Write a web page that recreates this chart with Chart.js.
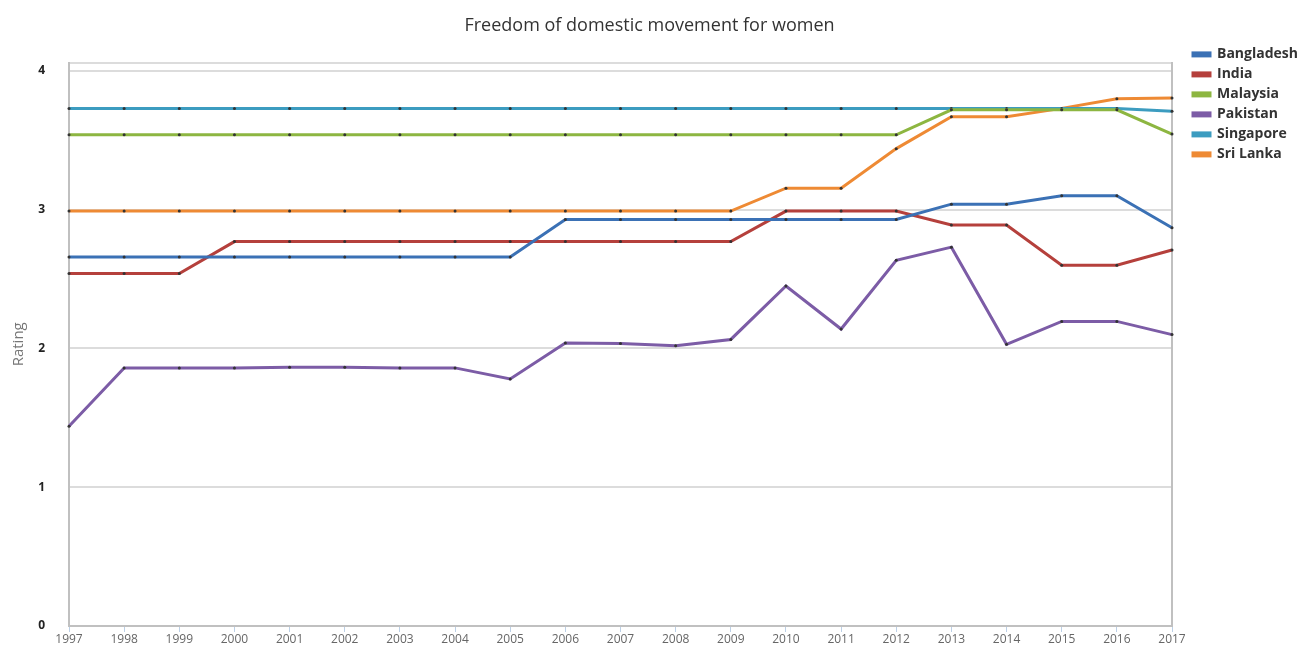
<!DOCTYPE html>
<html>
<head>
<meta charset="utf-8">
<title>Freedom of domestic movement for women</title>
<script src="https://cdn.jsdelivr.net/npm/chart.js@4"></script>
<style>
  html, body { margin: 0; padding: 0; background: #fff; overflow: hidden; }
  #wrap { width: 1299px; height: 648px; }
</style>
</head>
<body>
<div id="wrap"><canvas id="myChart"></canvas></div>
<script>
var years = ['1997','1998','1999','2000','2001','2002','2003','2004','2005','2006','2007',
             '2008','2009','2010','2011','2012','2013','2014','2015','2016','2017'];

var bangladesh = [2.66,2.66,2.66,2.66,2.66,2.66,2.66,2.66,2.66,2.93,2.93,2.93,2.93,2.93,2.93,2.93,3.04,3.04,3.10,3.10,2.87];
var india      = [2.54,2.54,2.54,2.77,2.77,2.77,2.77,2.77,2.77,2.77,2.77,2.77,2.77,2.99,2.99,2.99,2.89,2.89,2.60,2.60,2.71];
var malaysia   = [3.54,3.54,3.54,3.54,3.54,3.54,3.54,3.54,3.54,3.54,3.54,3.54,3.54,3.54,3.54,3.54,3.72,3.72,3.72,3.72,3.545];
var pakistan   = [1.44,1.86,1.86,1.86,1.865,1.865,1.86,1.86,1.78,2.04,2.035,2.02,2.065,2.45,2.14,2.635,2.73,2.03,2.195,2.195,2.10];
var singapore  = [3.73,3.73,3.73,3.73,3.73,3.73,3.73,3.73,3.73,3.73,3.73,3.73,3.73,3.73,3.73,3.73,3.73,3.73,3.73,3.73,3.71];
var sriLanka   = [2.99,2.99,2.99,2.99,2.99,2.99,2.99,2.99,2.99,2.99,2.99,2.99,2.99,3.155,3.155,3.44,3.67,3.67,3.73,3.80,3.805];

var yTicks = [0, 1, 2, 3, 4];

function line(label, data, color) {
    return {
        label: label,
        data: data,
        borderColor: color,
        backgroundColor: color,
        borderWidth: 3,
        tension: 0,
        pointRadius: 1.5,
        pointBackgroundColor: '#333',
        pointBorderWidth: 0,
        yAxisID: 'y'
    };
}

var ctx = document.getElementById('myChart');

var graphData = {
    type: 'line',
    data: {
        labels: years,
        datasets: [
            line('Bangladesh', bangladesh, '#3b71b5'),
            line('India', india, '#b5403c'),
            line('Malaysia', malaysia, '#8db641'),
            line('Pakistan', pakistan, '#7c5ca6'),
            line('Singapore', singapore, '#3c9cc0'),
            line('Sri Lanka', sriLanka, '#ee8a34')
        ]
    },
    options: {
        responsive: true,
        maintainAspectRatio: false,
        animation: false,
        layout: { padding: 0 },
        plugins: {
            title: {
                display: true,
                text: 'Freedom of domestic movement for women',
                color: '#333',
                font: { family: 'Open Sans', size: 18, weight: 'normal' },
                padding: { top: 15, bottom: 26 }
            },
            legend: {
                position: 'right',
                align: 'start',
                maxWidth: 112,
                title: {
                    display: true,
                    text: '',
                    padding: { top: 27, bottom: 0 }
                },
                labels: {
                    boxWidth: 17,
                    boxHeight: 3,
                    padding: 6,
                    color: '#333',
                    font: { family: 'Open Sans', size: 14, weight: 'bold' }
                }
            },
            tooltip: { enabled: false }
        },
        scales: {
            x: {
                offset: false,
                afterFit: function (axis) { axis.height = 22; },
                grid: {
                    drawOnChartArea: false,
                    color: '#bcd0e6',
                    tickLength: 6
                },
                border: { color: '#c0c0c0', width: 2 },
                ticks: {
                    color: '#666',
                    maxRotation: 0,
                    autoSkip: false,
                    padding: 0,
                    font: { family: 'Open Sans', size: 12 }
                }
            },
            y: {
                min: 0,
                max: 4.06,
                // fixed width, and no extra room reserved above/below for the tick labels
                afterFit: function (axis) {
                    axis.width = 69;
                    axis.paddingTop = 0;
                    axis.paddingBottom = 0;
                },
                afterBuildTicks: function (axis) {
                    axis.ticks = yTicks.map(function (v) { return { value: v }; }).concat([{ value: 4.06 }]);
                },
                grid: {
                    color: '#dcdcdc',
                    lineWidth: 2,
                    drawTicks: false
                },
                border: { color: '#c0c0c0', width: 2 },
                ticks: {
                    color: '#222',
                    padding: 24,
                    font: { family: 'Open Sans', size: 12, weight: 'bold' },
                    callback: function (v) { return yTicks.indexOf(v) >= 0 ? v : ''; }
                },
                title: {
                    display: true,
                    text: 'Rating',
                    color: '#777',
                    font: { family: 'Open Sans', size: 15 },
                    padding: { top: 10, bottom: 0 }
                }
            },
            y2: {
                position: 'right',
                min: 0,
                max: 4.06,
                afterFit: function (axis) { axis.width = 15; },
                grid: { drawOnChartArea: false, drawTicks: false },
                border: { color: '#c0c0c0', width: 2 },
                ticks: { display: false }
            }
        }
    }
};

var myChart = new Chart(ctx, graphData);
</script>
</body>
</html>
